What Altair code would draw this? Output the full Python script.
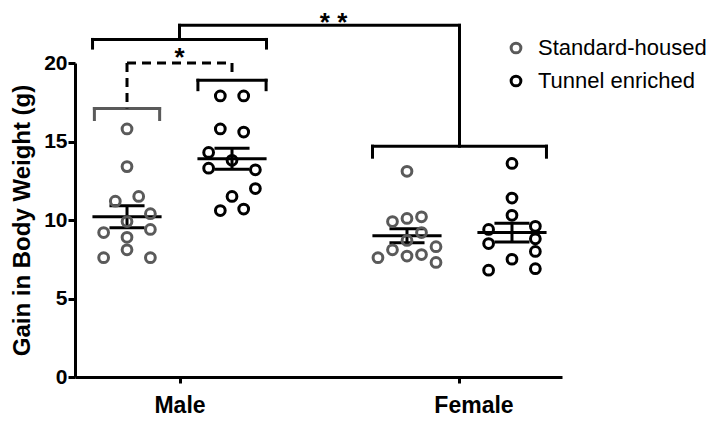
import altair as alt
import pandas as pd

# ---------------- data ----------------
series = ["Standard-housed", "Tunnel enriched"]
sexes = ["Male", "Female"]

# group centres on a 0-10 horizontal scale: Std-Male, Tun-Male, Std-Female, Tun-Female
group_sex = ["Male", "Male", "Female", "Female"]
group_series = ["Standard-housed", "Tunnel enriched", "Standard-housed", "Tunnel enriched"]
group_center = [1.068, 3.224, 6.817, 8.973]
group_step = [0.24, 0.24, 0.298, 0.24]   # horizontal spacing of point columns

# body-weight gain (g) per animal, and the column of each point in its cloud
std_male = [15.8, 13.4, 11.2, 11.5, 10.4, 9.9, 9.2, 9.4, 8.9, 8.1, 7.6, 7.6]
std_male_col = [0, 0, -1, 1, 2, 0, -2, 2, 0, 0, -2, 2]
tun_male = [17.9, 17.9, 15.8, 15.6, 14.3, 13.8, 13.3, 13.2, 12.0, 11.5, 10.6, 10.7]
tun_male_col = [-1, 1, -1, 1, -2, 0, -2, 2, 2, 0, -1, 1]
std_female = [13.1, 9.9, 10.1, 10.2, 9.2, 8.1, 7.7, 7.8, 8.3, 7.3, 7.6, 8.7]
std_female_col = [0, -1, 0, 1, 1, -1, 0, 1, 2, 2, -2, 0]
tun_female = [13.6, 11.4, 10.3, 9.4, 9.6, 8.5, 8.8, 8.0, 7.5, 6.8, 6.9]
tun_female_col = [0, 0, 0, -2, 2, -2, 2, 2, 0, -2, 2]

group_mean = [10.2, 13.9, 9.0, 9.2]
group_sem = [0.70, 0.67, 0.45, 0.60]

sex_tick = [2.146, 7.895]

# significance brackets (y levels in grams)
y_std_male_br, y_std_male_leg = 17.1, 16.4
y_tun_male_br, y_tun_male_leg = 18.9, 18.3
y_dash, y_dash_right_leg = 20.0, 19.3
y_male_br, y_male_leg = 21.5, 20.95
y_female_br, y_female_leg = 14.7, 14.0
y_top = 22.4

FONT = "Liberation Sans"
GREY = "#5a5a5a"

# ---------------- tables ----------------
vals = [std_male, tun_male, std_female, tun_female]
cols = [std_male_col, tun_male_col, std_female_col, tun_female_col]
rows = []
for g in range(4):
    for v, c in zip(vals[g], cols[g]):
        rows.append({"x": group_center[g] + c * group_step[g], "y": v,
                     "series": group_series[g], "sex": group_sex[g]})
pts = pd.DataFrame(rows)

MEAN_HW = 0.71
SEM_HW = 0.36
seg = []
for g in range(4):
    c, m, s = group_center[g], group_mean[g], group_sem[g]
    seg.append({"x": c - MEAN_HW, "x2": c + MEAN_HW, "y": m, "y2": m})
    seg.append({"x": c - SEM_HW, "x2": c + SEM_HW, "y": m + s, "y2": m + s})
    seg.append({"x": c - SEM_HW, "x2": c + SEM_HW, "y": m - s, "y2": m - s})
    seg.append({"x": c, "x2": c, "y": m - s, "y2": m + s})
stats = pd.DataFrame(seg)

def bracket(cx, hw, y, leg, color):
    return [
        {"x": cx - hw, "x2": cx + hw, "y": y, "y2": y, "c": color},
        {"x": cx - hw, "x2": cx - hw, "y": y, "y2": leg, "c": color},
        {"x": cx + hw, "x2": cx + hw, "y": y, "y2": leg, "c": color},
    ]

br = []
br += bracket(group_center[0], 0.67, y_std_male_br, y_std_male_leg, "grey")
br += bracket(group_center[1], 0.70, y_tun_male_br, y_tun_male_leg, "black")
br += bracket(sex_tick[0], 1.786, y_male_br, y_male_leg, "black")
br += bracket(sex_tick[1], 1.786, y_female_br, y_female_leg, "black")
br += [
    {"x": sex_tick[0], "x2": sex_tick[1], "y": y_top, "y2": y_top, "c": "black"},
    {"x": sex_tick[0], "x2": sex_tick[0], "y": y_top, "y2": y_male_br, "c": "black"},
    {"x": sex_tick[1], "x2": sex_tick[1], "y": y_top, "y2": y_female_br, "c": "black"},
]
brackets = pd.DataFrame(br)
dashed = pd.DataFrame([
    {"x": group_center[0], "x2": group_center[1], "y": y_dash, "y2": y_dash},
    {"x": group_center[0], "x2": group_center[0], "y": y_dash, "y2": y_std_male_br},
    {"x": group_center[1], "x2": group_center[1], "y": y_dash, "y2": y_dash_right_leg},
])
star1 = pd.DataFrame([{"x": (group_center[0] + group_center[1]) / 2, "y": 20.3, "t": "*"}])
star2 = pd.DataFrame([{"x": 5.31, "y": 23.4, "t": "* *"}])

# ---------------- chart ----------------
xs = alt.Scale(domain=[0, 10], nice=False, zero=False)
ys = alt.Scale(domain=[0, 20], nice=False, zero=True)

x_axis = alt.Axis(values=sex_tick, title=None, grid=False,
                  labelExpr="datum.value < 5 ? 'Male' : 'Female'",
                  labelFont=FONT, labelFontSize=23, labelFontWeight="bold",
                  labelColor="black", labelPadding=11,
                  labelOffset={"condition": {"test": "datum.value > 5", "value": 14}, "value": 0},
                  tickSize=6, tickWidth=3, tickColor="black",
                  domainWidth=3, domainColor="black")
y_axis = alt.Axis(values=[0, 5, 10, 15, 20], title="Gain in Body Weight (g)", grid=False,
                  labelFont=FONT, labelFontSize=21, labelFontWeight="bold",
                  labelColor="black", labelPadding=1,
                  tickSize=7, tickWidth=3, tickColor="black",
                  domainWidth=3, domainColor="black",
                  titleFont=FONT, titleFontSize=24, titleFontWeight="bold",
                  titleColor="black", titlePadding=9)

points = alt.Chart(pts).mark_point(filled=False, size=95, strokeWidth=3, opacity=1).encode(
    x=alt.X("x:Q", scale=xs, axis=x_axis),
    y=alt.Y("y:Q", scale=ys, axis=y_axis),
    stroke=alt.Stroke("series:N",
                      scale=alt.Scale(domain=series, range=[GREY, "black"]),
                      legend=alt.Legend(title=None, orient="none", legendX=430, legendY=-26,
                                        labelFont=FONT, labelFontSize=22, labelColor="black",
                                        labelLimit=0,
                                        symbolType="circle", symbolSize=95, symbolStrokeWidth=3,
                                        rowPadding=11, labelOffset=11, padding=0)),
)

stat_lines = alt.Chart(stats).mark_rule(color="black", strokeWidth=3).encode(
    x="x:Q", x2="x2:Q", y="y:Q", y2="y2:Q")

bracket_lines = alt.Chart(brackets).mark_rule(strokeWidth=3, strokeCap="square").encode(
    x="x:Q", x2="x2:Q", y="y:Q", y2="y2:Q",
    color=alt.Color("c:N", scale=alt.Scale(domain=["grey", "black"], range=[GREY, "black"]),
                    legend=None))

dash_lines = alt.Chart(dashed).mark_rule(strokeWidth=3, color="black", strokeDash=[9, 6]).encode(
    x="x:Q", x2="x2:Q", y="y:Q", y2="y2:Q")

star_text1 = alt.Chart(star1).mark_text(font=FONT, fontSize=26, fontWeight="bold",
                                        color="black", baseline="middle", align="center").encode(
    x="x:Q", y="y:Q", text="t:N")
star_text2 = alt.Chart(star2).mark_text(font=FONT, fontSize=26, fontWeight="bold",
                                        color="black", baseline="top", align="center").encode(
    x="x:Q", y="y:Q", text="t:N")

chart = alt.layer(bracket_lines, dash_lines, stat_lines, points, star_text1, star_text2).properties(
    width=487, height=314,
    background="white",
    autosize=alt.AutoSizeParams(type="none"),
    padding={"left": 67, "top": 55, "right": 150, "bottom": 44},
).configure_view(stroke=None)

chart.save("out.html", embed_options={"renderer": "svg", "actions": False})
